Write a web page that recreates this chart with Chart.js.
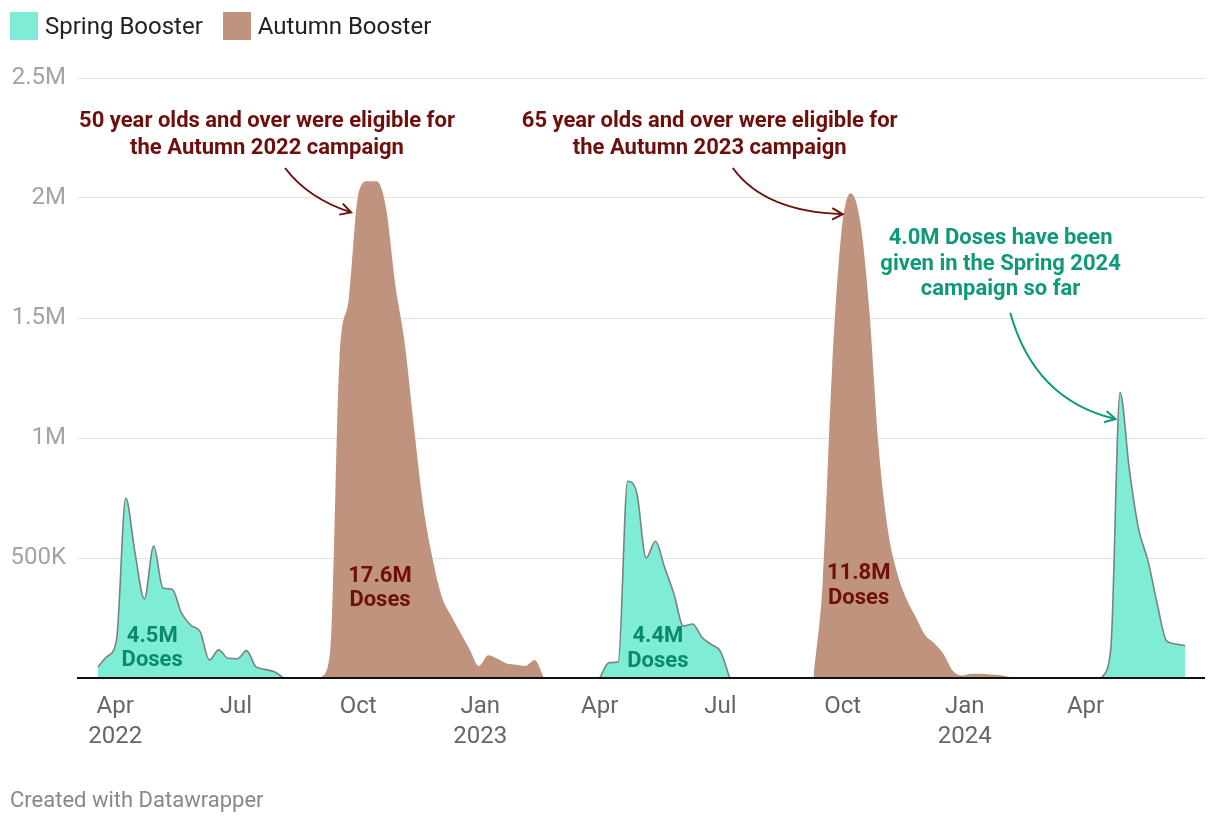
<!DOCTYPE html>
<html>
<head>
<meta charset="utf-8">
<script src="https://cdn.jsdelivr.net/npm/chart.js@4/dist/chart.umd.min.js"></script>
<style>
  body { margin: 0; background: #fff; font-family: Roboto, sans-serif; }
  #wrap { position: relative; width: 1220px; height: 824px; }
  #chart { position: absolute; left: 0; top: 0; }
  .legend { position: absolute; left: 10px; top: 12px; display: flex; align-items: center; font-size: 24px; color: #222; }
  .legend .sw { width: 28px; height: 28px; margin-right: 7px; }
  .legend .item { display: flex; align-items: center; margin-right: 20px; }
  .footer { position: absolute; left: 10px; top: 787px; font-size: 22px; color: #888; }
</style>
</head>
<body>
<div id="wrap">
  <canvas id="chart" width="1220" height="824"></canvas>
  <div class="legend">
    <div class="item"><div class="sw" style="background:#7fedd5"></div>Spring Booster</div>
    <div class="item"><div class="sw" style="background:#c0937e"></div>Autumn Booster</div>
  </div>
  <div class="footer">Created with Datawrapper</div>
</div>
<script>
// weekly doses, millions; each campaign starts on the given week
const spring2022Start = "2022-03-19";
const spring2022 = [0.047, 0.09, 0.16, 0.75, 0.52, 0.33, 0.55, 0.375, 0.37, 0.27, 0.22,
  0.193, 0.075, 0.117, 0.082, 0.08, 0.114, 0.047, 0.036, 0.026, 0];
const autumn2022Start = "2022-09-03";
const autumn2022 = [0, 0.11, 1.33, 1.58, 2.01, 2.07, 2.07, 1.96, 1.64, 1.40, 1.05, 0.72,
  0.50, 0.34, 0.26, 0.19, 0.12, 0.05, 0.095, 0.08, 0.06, 0.055, 0.05, 0.075, 0];
const spring2023Start = "2023-04-01";
const spring2023 = [0, 0.064, 0.068, 0.82, 0.77, 0.50, 0.57, 0.46, 0.35, 0.217, 0.225,
  0.17, 0.14, 0.11, 0];
const autumn2023Start = "2023-09-09";
const autumn2023 = [0, 0.40, 1.28, 1.85, 2.02, 1.91, 1.54, 0.97, 0.62, 0.44, 0.33, 0.255,
  0.18, 0.145, 0.10, 0.03, 0.01, 0.018, 0.018, 0.015, 0.012, 0.005, 0];
const spring2024Start = "2024-04-13";
const spring2024 = [0, 0.12, 1.19, 0.87, 0.62, 0.49, 0.31, 0.155, 0.142, 0.135];

const tickDates = ["2022-04-01", "2022-07-01", "2022-10-01", "2023-01-01", "2023-04-01",
  "2023-07-01", "2023-10-01", "2024-01-01", "2024-04-01"];
const tickLabels = [["Apr", "2022"], "Jul", "Oct", ["Jan", "2023"], "Apr", "Jul", "Oct",
  ["Jan", "2024"], "Apr"];

const SPRING = "#7fedd5";
const AUTUMN = "#c0937e";
const RED = "#6e0f0b";
const GREEN = "#0e9a7a";

// x axis is days since 1 Jan 2022
const day0 = Date.UTC(2022, 0, 1);
function dayOf(iso) {
  return (Date.parse(iso + "T00:00:00Z") - day0) / 86400000;
}

function weekly(start, values) {
  const d = dayOf(start);
  return values.map((v, i) => ({ x: d + 7 * i, y: v }));
}

function joined(parts) {
  let out = [];
  parts.forEach((p, i) => {
    if (i > 0) out.push({ x: (out[out.length - 1].x + p[0].x) / 2, y: null });
    out = out.concat(p);
  });
  return out;
}

const springPoints = joined([
  weekly(spring2022Start, spring2022),
  weekly(spring2023Start, spring2023),
  weekly(spring2024Start, spring2024),
]);
const autumnPoints = joined([
  weekly(autumn2022Start, autumn2022),
  weekly(autumn2023Start, autumn2023),
]);

// text notes and arrows, placed in data units (day, millions)
const notes = [
  { x: 204.4, y: [2.317, 2.208], color: RED,
    lines: ["50 year olds and over were eligible for", "the Autumn 2022 campaign"] },
  { x: 537.9, y: [2.317, 2.208], color: RED,
    lines: ["65 year olds and over were eligible for", "the Autumn 2023 campaign"] },
  { x: 757, y: [1.833, 1.721, 1.617], color: GREEN,
    lines: ["4.0M Doses have been", "given in the Spring 2024", "campaign so far"] },
  { x: 117.9, y: [0.175, 0.075], color: "#0b8a6b", lines: ["4.5M", "Doses"] },
  { x: 289.5, y: [0.425, 0.321], color: RED, lines: ["17.6M", "Doses"] },
  { x: 498.8, y: [0.171, 0.067], color: "#0b8a6b", lines: ["4.4M", "Doses"] },
  { x: 650.1, y: [0.4375, 0.333], color: RED, lines: ["11.8M", "Doses"] },
];
const arrows = [
  { color: RED, from: [218.0, 2.125], ctrl: [235.3, 1.998], to: [267.7, 1.94] },
  { color: RED, from: [555.3, 2.125], ctrl: [579.3, 1.942], to: [638.1, 1.933] },
  { color: GREEN, from: [764.3, 1.522], ctrl: [782.6, 1.158], to: [843.6, 1.079] },
];

const notesPlugin = {
  id: "notes",
  afterDatasetsDraw(chart) {
    const { ctx, chartArea, scales } = chart;
    const xs = scales.x, ys = scales.y;
    ctx.save();
    // zero line
    ctx.strokeStyle = "#111";
    ctx.lineWidth = 2;
    ctx.beginPath();
    ctx.moveTo(chartArea.left - 1, ys.getPixelForValue(0));
    ctx.lineTo(chartArea.right, ys.getPixelForValue(0));
    ctx.stroke();

    ctx.textAlign = "center";
    ctx.textBaseline = "middle";
    ctx.font = "bold 22px Roboto";
    notes.forEach(n => {
      ctx.fillStyle = n.color;
      n.lines.forEach((t, i) => {
        ctx.fillText(t, xs.getPixelForValue(n.x), ys.getPixelForValue(n.y[i]));
      });
    });

    arrows.forEach(a => {
      const p0 = [xs.getPixelForValue(a.from[0]), ys.getPixelForValue(a.from[1])];
      const c = [xs.getPixelForValue(a.ctrl[0]), ys.getPixelForValue(a.ctrl[1])];
      const p2 = [xs.getPixelForValue(a.to[0]), ys.getPixelForValue(a.to[1])];
      ctx.strokeStyle = a.color;
      ctx.lineWidth = 2;
      ctx.beginPath();
      ctx.moveTo(p0[0], p0[1]);
      ctx.quadraticCurveTo(c[0], c[1], p2[0], p2[1]);
      ctx.stroke();
      const ang = Math.atan2(p2[1] - c[1], p2[0] - c[0]);
      const len = 12, spread = 0.5;
      ctx.beginPath();
      ctx.moveTo(p2[0] - len * Math.cos(ang - spread), p2[1] - len * Math.sin(ang - spread));
      ctx.lineTo(p2[0], p2[1]);
      ctx.lineTo(p2[0] - len * Math.cos(ang + spread), p2[1] - len * Math.sin(ang + spread));
      ctx.stroke();
    });
    ctx.restore();
  },
};

new Chart(document.getElementById("chart"), {
  type: "line",
  data: {
    datasets: [
      {
        label: "Spring Booster",
        data: springPoints,
        backgroundColor: SPRING,
        borderColor: "rgba(110,110,110,0.85)",
        borderWidth: 1.6,
        fill: "origin",
        pointRadius: 0,
        cubicInterpolationMode: "monotone",
        spanGaps: false,
      },
      {
        label: "Autumn Booster",
        data: autumnPoints,
        backgroundColor: AUTUMN,
        borderColor: AUTUMN,
        borderWidth: 0,
        fill: "origin",
        pointRadius: 0,
        cubicInterpolationMode: "monotone",
        spanGaps: false,
      },
    ],
  },
  options: {
    responsive: false,
    animation: false,
    devicePixelRatio: 1,
    layout: { padding: { left: 0, top: 78, right: 15, bottom: 66 } },
    plugins: { legend: { display: false }, tooltip: { enabled: false } },
    scales: {
      x: {
        type: "linear",
        min: 62,
        max: 911,
        grid: { display: false },
        border: { display: false },
        afterBuildTicks: (scale) => {
          scale.ticks = tickDates.map(d => ({ value: dayOf(d) }));
        },
        afterFit: (scale) => { scale.height = 80; },
        ticks: {
          autoSkip: false,
          maxRotation: 0,
          padding: 6,
          color: "#666",
          font: { family: "Roboto", size: 24, lineHeight: 1.25 },
          callback: (v, i) => tickLabels[i],
        },
      },
      y: {
        min: 0,
        max: 2.5,
        grid: { color: "#e2e2e2", lineWidth: 1, drawTicks: false },
        border: { display: false },
        afterFit: (scale) => { scale.width = 78; },
        ticks: {
          stepSize: 0.5,
          padding: 12,
          color: "#a3a3a3",
          font: { family: "Roboto", size: 24 },
          callback: (v) => (v === 0 ? "" : v >= 1 ? v + "M" : v * 1000 + "K"),
        },
      },
    },
  },
  plugins: [notesPlugin],
});
</script>
</body>
</html>
